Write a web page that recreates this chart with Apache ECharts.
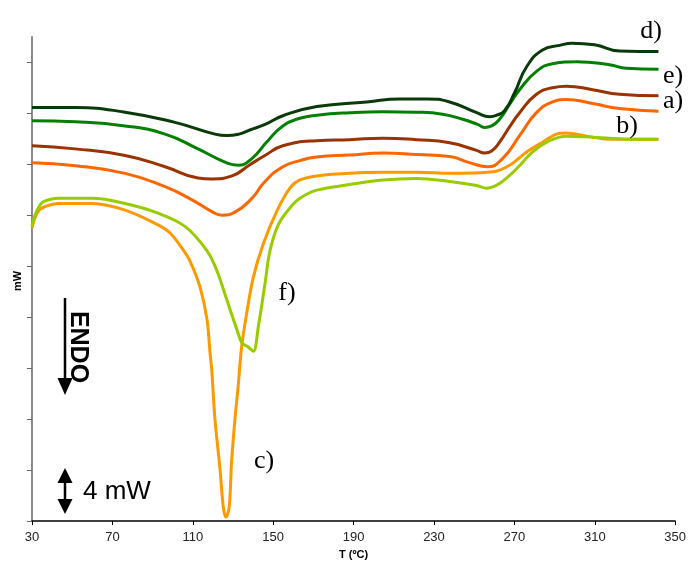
<!DOCTYPE html>
<html>
<head>
<meta charset="utf-8">
<script src="https://cdn.jsdelivr.net/npm/echarts@6/dist/echarts.min.js"></script>
<style>
html,body{margin:0;padding:0;background:#fff;}
#chart{width:689px;height:565px;}
</style>
</head>
<body>
<div id="chart"></div>
<script>
// x-axis tick labels (°C)
var xTicks = [30, 70, 110, 150, 190, 230, 270, 310, 350];

// curve d)
var tD = [30, 51.5, 76.3, 101.1, 121, 127, 133, 138.4, 146.0, 154.8, 171.7, 196.6, 213.0, 226.4, 237.8, 251.3, 257.7, 261.2, 265.1, 270.1, 276.1, 284.0, 292.5, 298.9, 309.9, 322.3, 341.7];
var yD = [8.11, 8.11, 8.02, 7.82, 7.59, 7.56, 7.59, 7.67, 7.78, 7.95, 8.13, 8.22, 8.28, 8.28, 8.22, 8.01, 7.93, 7.96, 8.05, 8.40, 8.91, 9.24, 9.33, 9.37, 9.34, 9.22, 9.21];

// curve e)
var tE = [30, 51.5, 76.3, 96.2, 112.6, 126.0, 132.5, 139.4, 146.9, 154.8, 163.3, 171.7, 188.1, 204.5, 221.4, 234.3, 244.3, 251.7, 255.2, 258.7, 262.6, 267.6, 272.6, 281.0, 289.0, 300.9, 317.3, 325.8, 341.7];
var yE = [7.85, 7.83, 7.75, 7.59, 7.30, 7.04, 6.98, 7.11, 7.44, 7.75, 7.90, 7.96, 8.01, 8.03, 8.02, 7.98, 7.88, 7.78, 7.72, 7.75, 7.88, 8.17, 8.46, 8.82, 8.97, 9.01, 8.95, 8.88, 8.86];

// curve a)
var tA = [30, 51.5, 76.3, 96.2, 112.6, 119.5, 129.5, 138.4, 145.9, 154.8, 171.7, 188.1, 204.5, 221.4, 237.8, 251.2, 255.2, 258.7, 262.6, 267.6, 272.6, 281.0, 289.0, 295.9, 308.9, 322.3, 341.7];
var yA = [7.36, 7.30, 7.17, 6.95, 6.73, 6.71, 6.77, 6.99, 7.17, 7.36, 7.46, 7.48, 7.51, 7.48, 7.42, 7.27, 7.22, 7.26, 7.43, 7.73, 8.01, 8.37, 8.50, 8.53, 8.46, 8.37, 8.34];

// curve b)
var tB = [30, 51.5, 76.3, 96.2, 109.6, 119.5, 124.5, 131.0, 139.4, 145.9, 154.8, 163.3, 171.7, 188.1, 204.5, 221.4, 237.8, 247.7, 256.7, 264.1, 272.6, 281.0, 289.0, 295.9, 308.9, 322.3, 341.7];
var yB = [7.03, 6.97, 6.82, 6.56, 6.30, 6.07, 6.00, 6.06, 6.33, 6.66, 6.95, 7.07, 7.14, 7.18, 7.22, 7.19, 7.15, 7.03, 6.95, 7.11, 7.56, 8.01, 8.22, 8.27, 8.19, 8.09, 8.04];

// curve c)
var tC = [30, 31.5, 33.6, 36.6, 43.0, 59.9, 76.3, 92.7, 98.7, 105.0, 108.6, 113.6, 117.1, 118.6, 119.4, 121.0, 123.5, 125.2, 126.5, 128.1, 129.3, 131.0, 132.6, 134.3, 136.8, 140.1, 145.0, 151.7, 158.3, 163.3, 171.7, 188.1, 204.5, 221.4, 237.8, 259.2, 267.6, 276.1, 284.0, 291.0, 295.9, 305.9, 317.3, 341.7];
var yC = [5.75, 5.95, 6.10, 6.17, 6.23, 6.23, 6.10, 5.81, 5.65, 5.33, 5.10, 4.59, 3.95, 3.29, 2.98, 2.01, 1.04, 0.27, 0.08, 0.27, 1.16, 2.01, 2.65, 3.42, 4.07, 4.78, 5.43, 6.07, 6.53, 6.69, 6.77, 6.82, 6.84, 6.84, 6.82, 6.85, 6.98, 7.24, 7.43, 7.59, 7.61, 7.55, 7.49, 7.49];

// curve f)
var tF = [30, 31.5, 34.0, 36.0, 43.0, 59.9, 76.3, 92.7, 106.1, 117.1, 122.0, 127.0, 132.0, 134.5, 137.4, 140.1, 142.6, 145.9, 148.4, 152.5, 158.3, 163.3, 171.7, 188.1, 204.5, 221.4, 237.8, 251.2, 256.2, 262.6, 271.1, 279.1, 287.5, 295.9, 308.9, 325.8, 341.7];
var yF = [5.78, 6.00, 6.20, 6.27, 6.33, 6.33, 6.23, 6.04, 5.78, 5.30, 4.91, 4.33, 3.75, 3.49, 3.42, 3.33, 3.81, 4.65, 5.30, 5.81, 6.14, 6.33, 6.49, 6.60, 6.69, 6.72, 6.66, 6.58, 6.53, 6.62, 6.91, 7.24, 7.46, 7.55, 7.53, 7.49, 7.49];

// y-axis tick positions (unlabelled)
var yTicks = [0, 1, 2, 3, 4, 5, 6, 7, 8, 9];

function pairs(t, y) { return t.map(function (v, i) { return [v, y[i]]; }); }

var curves = [
  { name: 'a)', t: tA, y: yA, color: '#993300', smooth: 0.5 },
  { name: 'b)', t: tB, y: yB, color: '#ff6600', smooth: 0.5 },
  { name: 'e)', t: tE, y: yE, color: '#008000', smooth: 0.5 },
  { name: 'd)', t: tD, y: yD, color: '#0a3a0a', smooth: 0.5 },
  { name: 'c)', t: tC, y: yC, color: '#ff9900', smooth: 0.35 },
  { name: 'f)', t: tF, y: yF, color: '#99cc00', smooth: 0.35 }
];

var chart = echarts.init(document.getElementById('chart'), null, { renderer: 'canvas' });

var serif = '"Liberation Serif", "Times New Roman", serif';
var sans = '"Liberation Sans", Arial, sans-serif';

function label(txt, x, y) {
  return {
    type: 'text', x: x, y: y, z: 100,
    style: { text: txt, font: '26px ' + serif, fill: '#000',
      align: 'center', verticalAlign: 'middle', textAlign: 'center', textVerticalAlign: 'middle' }
  };
}

var option = {
  animation: false,
  backgroundColor: '#fff',
  grid: { left: 32, right: 13.5, top: 36.7, bottom: 38.3, containLabel: false },
  xAxis: {
    type: 'value', min: xTicks[0], max: xTicks[xTicks.length - 1], interval: 40,
    name: 'T (ºC)', nameLocation: 'middle', nameGap: 24,
    nameTextStyle: { fontFamily: sans, fontSize: 11, fontWeight: 'bold', color: '#000' },
    axisLine: { onZero: false, lineStyle: { color: '#000', width: 1.5 } },
    axisTick: { show: true, length: 4, lineStyle: { color: '#000', width: 1 } },
    axisLabel: { fontFamily: sans, fontSize: 13, color: '#222', margin: 10 },
    splitLine: { show: false }
  },
  yAxis: {
    type: 'value', min: 0, max: 9.5,
    axisLine: { show: true, lineStyle: { color: '#666', width: 1.5 } },
    axisTick: { show: true, length: 5, customValues: yTicks, lineStyle: { color: '#666', width: 1 } },
    axisLabel: { show: false },
    splitLine: { show: false }
  },
  series: curves.map(function (c) {
    return {
      name: c.name, type: 'line', data: pairs(c.t, c.y),
      showSymbol: false, smooth: c.smooth,
      lineStyle: { color: c.color, width: 3 }, itemStyle: { color: c.color },
      emphasis: { disabled: true }, silent: true
    };
  }),
  graphic: [
    { type: 'text', x: 18, y: 281, rotation: Math.PI / 2,
      style: { text: 'mW', font: 'bold 11px ' + sans, fill: '#000',
        align: 'center', verticalAlign: 'middle', textAlign: 'center', textVerticalAlign: 'middle' } },
    { type: 'text', x: 78, y: 347, rotation: -Math.PI / 2,
      style: { text: 'ENDO', font: 'bold 25px ' + sans, fill: '#000',
        align: 'center', verticalAlign: 'middle', textAlign: 'center', textVerticalAlign: 'middle' } },
    { type: 'line', shape: { x1: 65, y1: 298, x2: 65, y2: 382 }, style: { stroke: '#000', lineWidth: 2.5 } },
    { type: 'polygon', shape: { points: [[57.5, 378], [72.5, 378], [65, 395]] }, style: { fill: '#000' } },
    { type: 'line', shape: { x1: 65, y1: 480, x2: 65, y2: 502 }, style: { stroke: '#000', lineWidth: 2.5 } },
    { type: 'polygon', shape: { points: [[65, 468], [57.5, 483], [72.5, 483]] }, style: { fill: '#000' } },
    { type: 'polygon', shape: { points: [[57.5, 499], [72.5, 499], [65, 514]] }, style: { fill: '#000' } },
    { type: 'text', x: 83, y: 492,
      style: { text: '4 mW', font: '26px ' + sans, fill: '#000',
        align: 'left', verticalAlign: 'middle', textAlign: 'left', textVerticalAlign: 'middle' } },
    label('d)', 651, 31),
    label('e)', 673, 76),
    label('a)', 673, 101),
    label('b)', 627, 126),
    label('f)', 287, 293),
    label('c)', 264, 461)
  ]
};

chart.setOption(option);
</script>
</body>
</html>
